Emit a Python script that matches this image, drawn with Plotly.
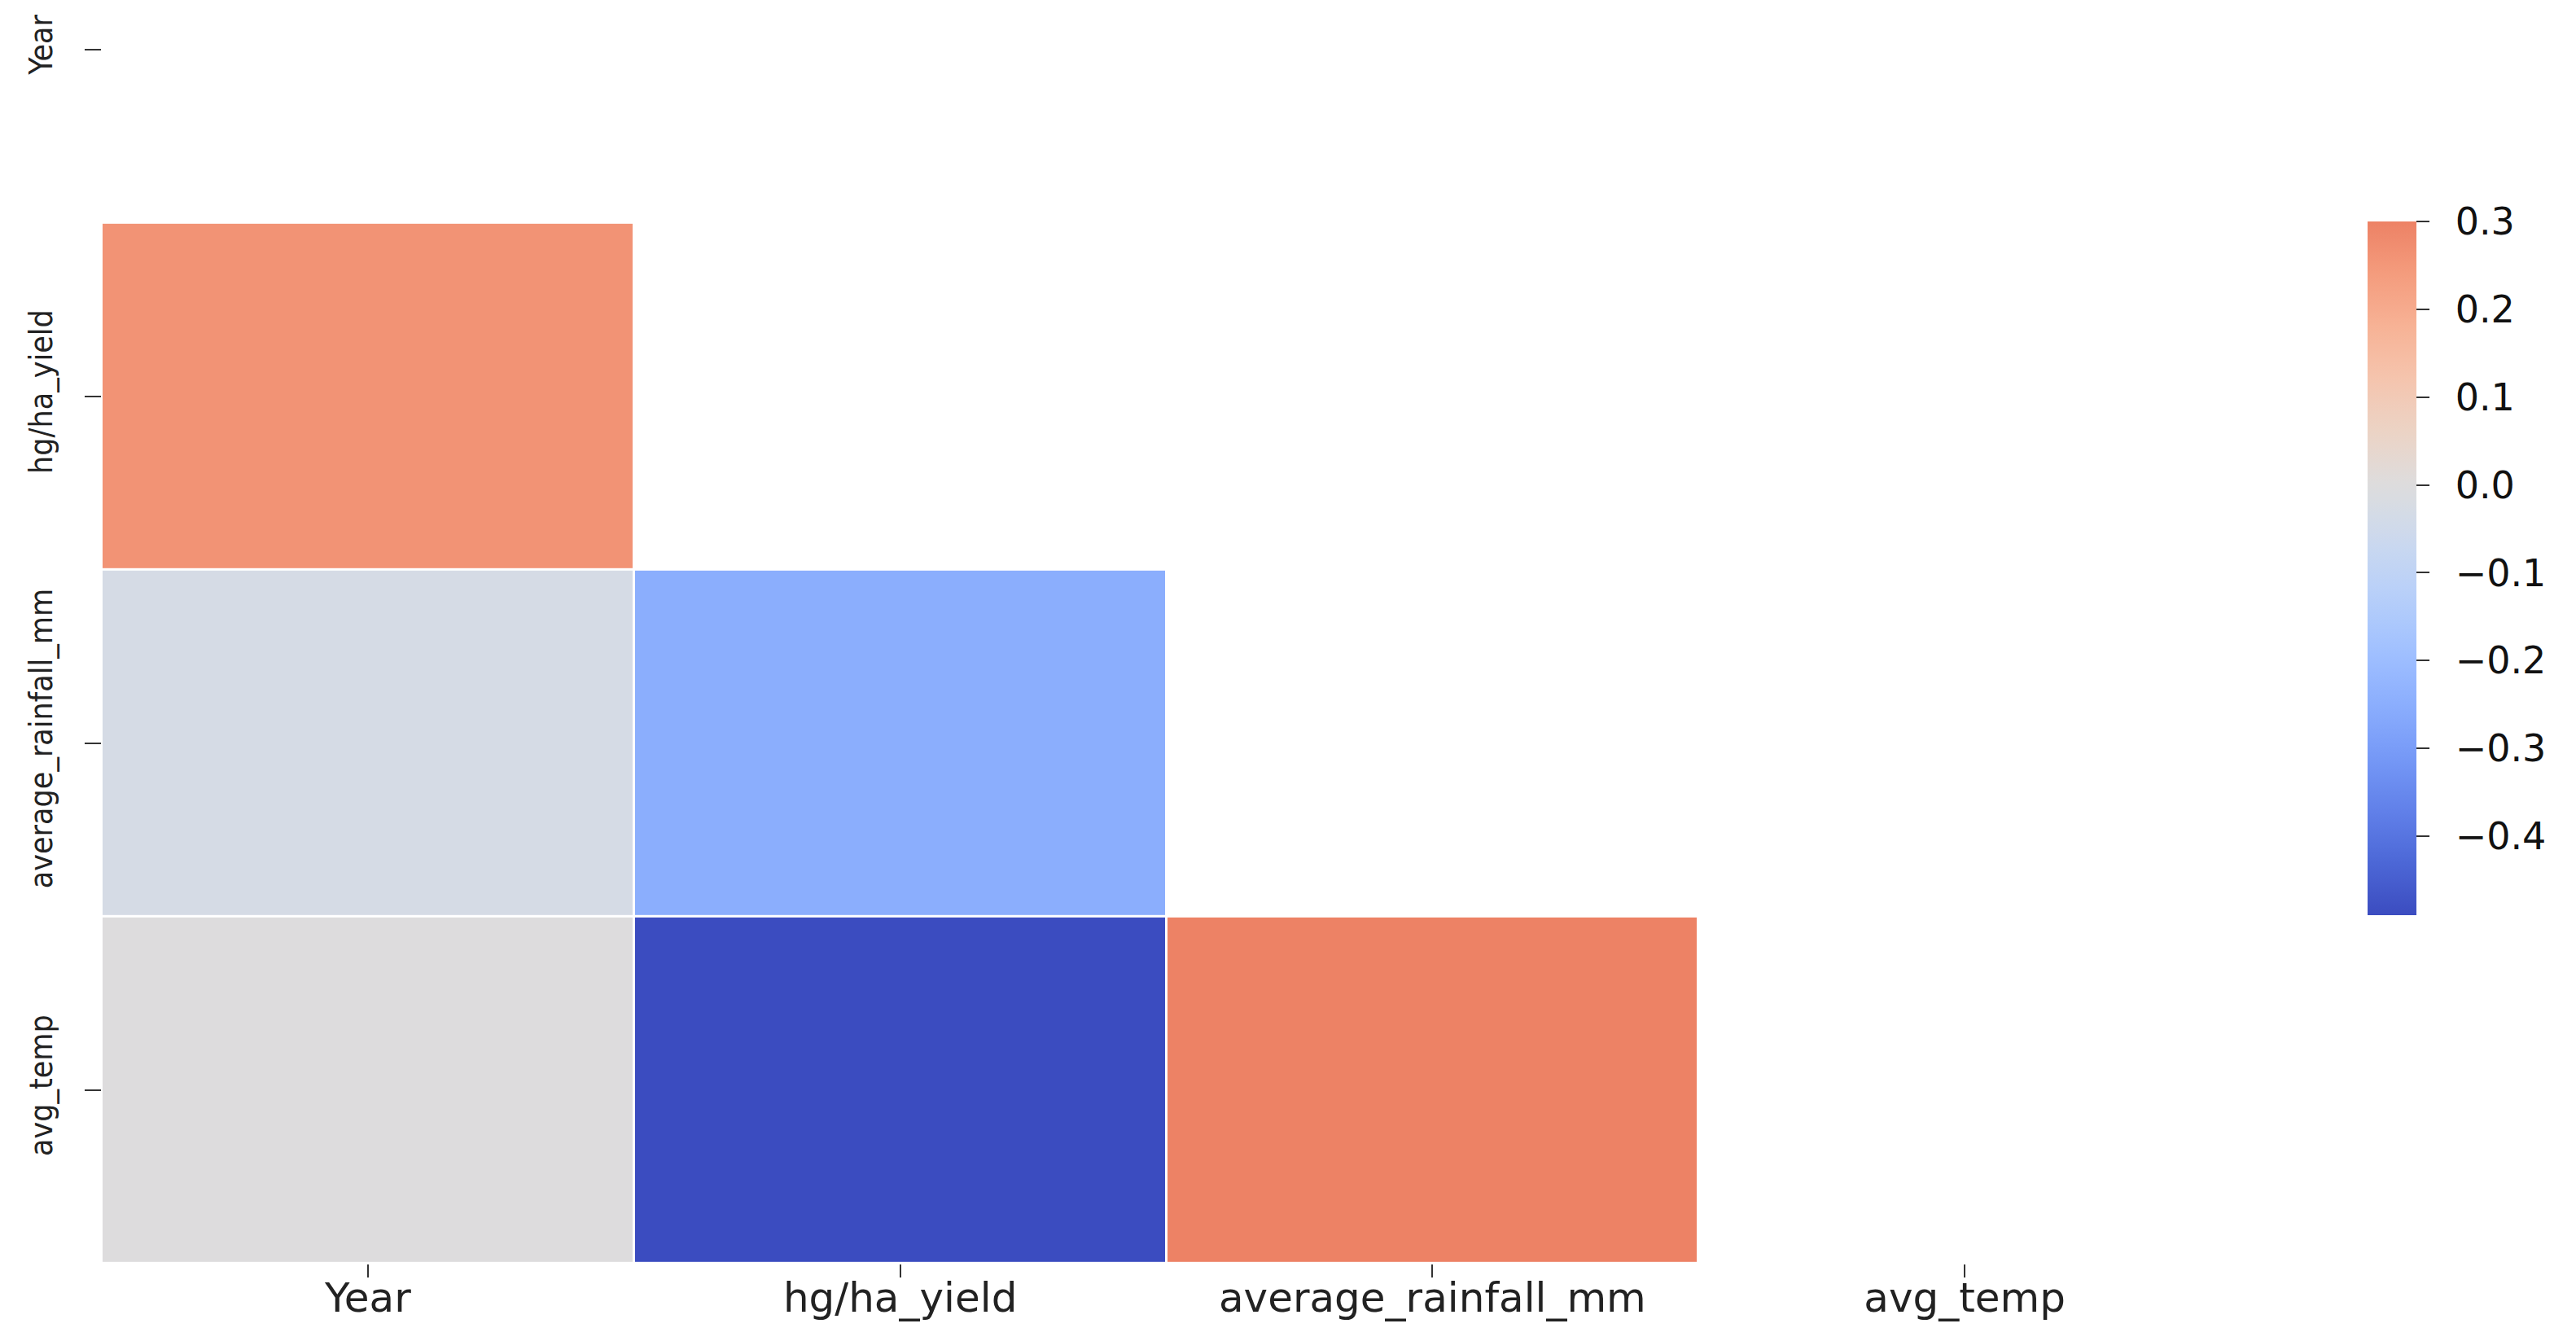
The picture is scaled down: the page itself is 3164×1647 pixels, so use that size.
import numpy as np
import plotly.graph_objects as go

# correlation matrix (lower triangle; the rest is masked)
COLUMNS = ["Year", "hg/ha_yield", "average_rainfall_mm", "avg_temp"]
YEAR = [1.00, 0.26, -0.03, 0.00]
HG_YIELD = [0.26, 1.00, -0.25, -0.49]
RAINFALL = [-0.03, -0.25, 1.00, 0.30]
AVG_TEMP = [0.00, -0.49, 0.30, 1.00]
CBAR_TICKS = [-0.4, -0.3, -0.2, -0.1, 0.0, 0.1, 0.2, 0.3]

# matplotlib "coolwarm" anchor colours (evenly spaced 0..1)
COOLWARM = [
    (59, 76, 192), (77, 104, 215), (98, 130, 234), (119, 154, 247),
    (141, 176, 254), (163, 194, 255), (184, 208, 249), (204, 217, 238),
    (221, 221, 221), (236, 211, 197), (245, 196, 173), (247, 177, 148),
    (244, 154, 123), (236, 127, 99), (222, 96, 77), (203, 62, 56),
    (180, 4, 38),
]


def coolwarm(p):
    p = min(max(p, 0.0), 1.0) * (len(COOLWARM) - 1)
    i = min(int(p), len(COOLWARM) - 2)
    f = p - i
    a, b = COOLWARM[i], COOLWARM[i + 1]
    return "rgb({:.0f},{:.0f},{:.0f})".format(*[a[k] + (b[k] - a[k]) * f for k in range(3)])


corr = np.array([YEAR, HG_YIELD, RAINFALL, AVG_TEMP])
mask = np.triu(np.ones_like(corr, dtype=bool))
z = np.where(mask, None, corr).tolist()

vis = corr[~mask]
zmin, zmax = float(vis.min()), float(vis.max())
# seaborn-style centring at 0: the colormap is cut, not stretched
vrange = max(abs(zmin), abs(zmax))
colorscale = []
for t in np.linspace(0, 1, 41):
    v = zmin + t * (zmax - zmin)
    colorscale.append([float(t), coolwarm(0.5 + v / (2 * vrange))])

# leading en space pushes the colorbar labels away from the ticks
cbar_text = ["\u2002" + f"{v:.1f}".replace("-", "\u2212") for v in CBAR_TICKS]

fig = go.Figure(
    go.Heatmap(
        z=z,
        x=COLUMNS,
        y=COLUMNS,
        zmin=zmin,
        zmax=zmax,
        colorscale=colorscale,
        xgap=3,
        ygap=3,
        hoverongaps=False,
        colorbar=dict(
            x=1.0642,
            xanchor="left",
            xpad=0,
            y=0.2772,
            yanchor="bottom",
            ypad=0,
            len=0.5518,
            lenmode="fraction",
            thickness=60,
            outlinewidth=0,
            ticks="outside",
            ticklen=16,
            tickwidth=2,
            tickcolor="#333",
            tickvals=CBAR_TICKS,
            ticktext=cbar_text,
            tickfont=dict(family="DejaVu Sans", size=46, color="#111"),
        ),
    )
)

fig.update_xaxes(
    range=[-0.5, 3.5],
    automargin=False,
    showgrid=False,
    zeroline=False,
    showline=False,
    ticks="outside",
    ticklen=16,
    tickwidth=2,
    tickcolor="#333",
    ticklabelstandoff=-18,
    tickfont=dict(family="DejaVu Sans", size=50, color="#222"),
)
fig.update_yaxes(
    range=[3.5, -0.124],
    automargin=False,
    showgrid=False,
    zeroline=False,
    showline=False,
    ticks="outside",
    ticklen=20,
    tickwidth=2,
    tickcolor="#333",
    tickangle=-90,
    ticklabelstandoff=24,
    tickfont=dict(family="DejaVu Sans Condensed, DejaVu Sans", size=39, color="#222"),
)
# the page body adds an 8px offset, so the figure is 8px smaller each way
fig.update_layout(
    width=3156,
    height=1639,
    margin=dict(l=117, r=424, t=0, b=95),
    plot_bgcolor="white",
    paper_bgcolor="white",
)
fig.write_html("out.html")
